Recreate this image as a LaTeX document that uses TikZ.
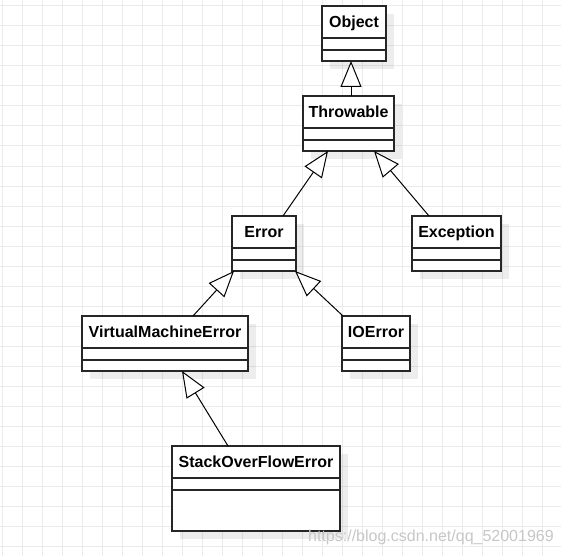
\documentclass[tikz,border=0pt]{standalone}
\usepackage{fontspec}
\setmainfont{Liberation Sans}
\usetikzlibrary{arrows.meta,shadows}
\tikzset{
  gridline/.style={draw=black!8, line width=1pt},
  clsbox/.style={draw=black!85, line width=1.2pt, fill=white, outer sep=0pt, inner sep=0pt,
    drop shadow={shadow xshift=8pt, shadow yshift=-8pt, fill=black, opacity=0.07}},
  clsline/.style={draw=black!85, line width=1.2pt},
  clstitle/.style={font=\fontsize{16}{19}\selectfont\bfseries, inner sep=0pt},
  gen/.style={-{Triangle[fill=white,length=26pt,width=21pt]}, line width=1pt, draw=black},
  wmark/.style={font=\fontsize{16}{19}\selectfont, text=black!22, inner sep=0pt}
}
\newcommand\umlcls[6]{%
  \node[clsbox, minimum width=#4-#2, minimum height=#5-#3, anchor=north west] (#1) at (#2,#3) {};
  \draw[clsline] ([yshift=-32pt]#1.north west) -- ([yshift=-32pt]#1.north east);
  \draw[clsline] ([yshift=-44pt]#1.north west) -- ([yshift=-44pt]#1.north east);
  \node[clstitle, anchor=base] (#1t) at ([yshift=-21.7pt]#1.north) {#6};
}
\begin{document}
\begin{tikzpicture}[x=1pt,y=-1pt]
\useasboundingbox (0,0) rectangle (561,556);
\fill[white] (0,0) rectangle (561,556);
\foreach \x in {2,22,...,562} \draw[gridline] (\x,0) -- (\x,556);
\foreach \y in {6,26,...,546} \draw[gridline] (0,\y) -- (561,\y);

\umlcls{obj}{322}{6}{386}{61}{Object}
\umlcls{thr}{303}{96}{394}{151}{Throwable}
\umlcls{err}{232}{216}{296}{271}{Error}
\umlcls{exc}{412}{216}{501}{271}{Exception}
\umlcls{vme}{82}{316}{248}{371}{VirtualMachineError}
\umlcls{ioe}{342}{316}{410}{371}{IOError}
\umlcls{sof}{172}{446}{340}{531}{StackOverFlowError}

\draw[gen] ([xshift=2.5pt]thr.north) -- ([xshift=-3pt]obj.south);
\draw[gen] ([xshift=19pt]err.north) -- ([xshift=-20.5pt]thr.south);
\draw[gen] ([xshift=-27.5pt]exc.north) -- ([xshift=25.5pt]thr.south);
\draw[gen] ([xshift=28pt]vme.north) -- ([xshift=-30pt]err.south);
\draw[gen] ([xshift=-33pt]ioe.north) -- ([xshift=31pt]err.south);
\draw[gen] ([xshift=-28pt]sof.north) -- ([xshift=17pt]vme.south);

\node[wmark, anchor=base west] (wm) at (308,541.7) {https://blog.csdn.net/qq\_52001969};
\end{tikzpicture}
\end{document}
